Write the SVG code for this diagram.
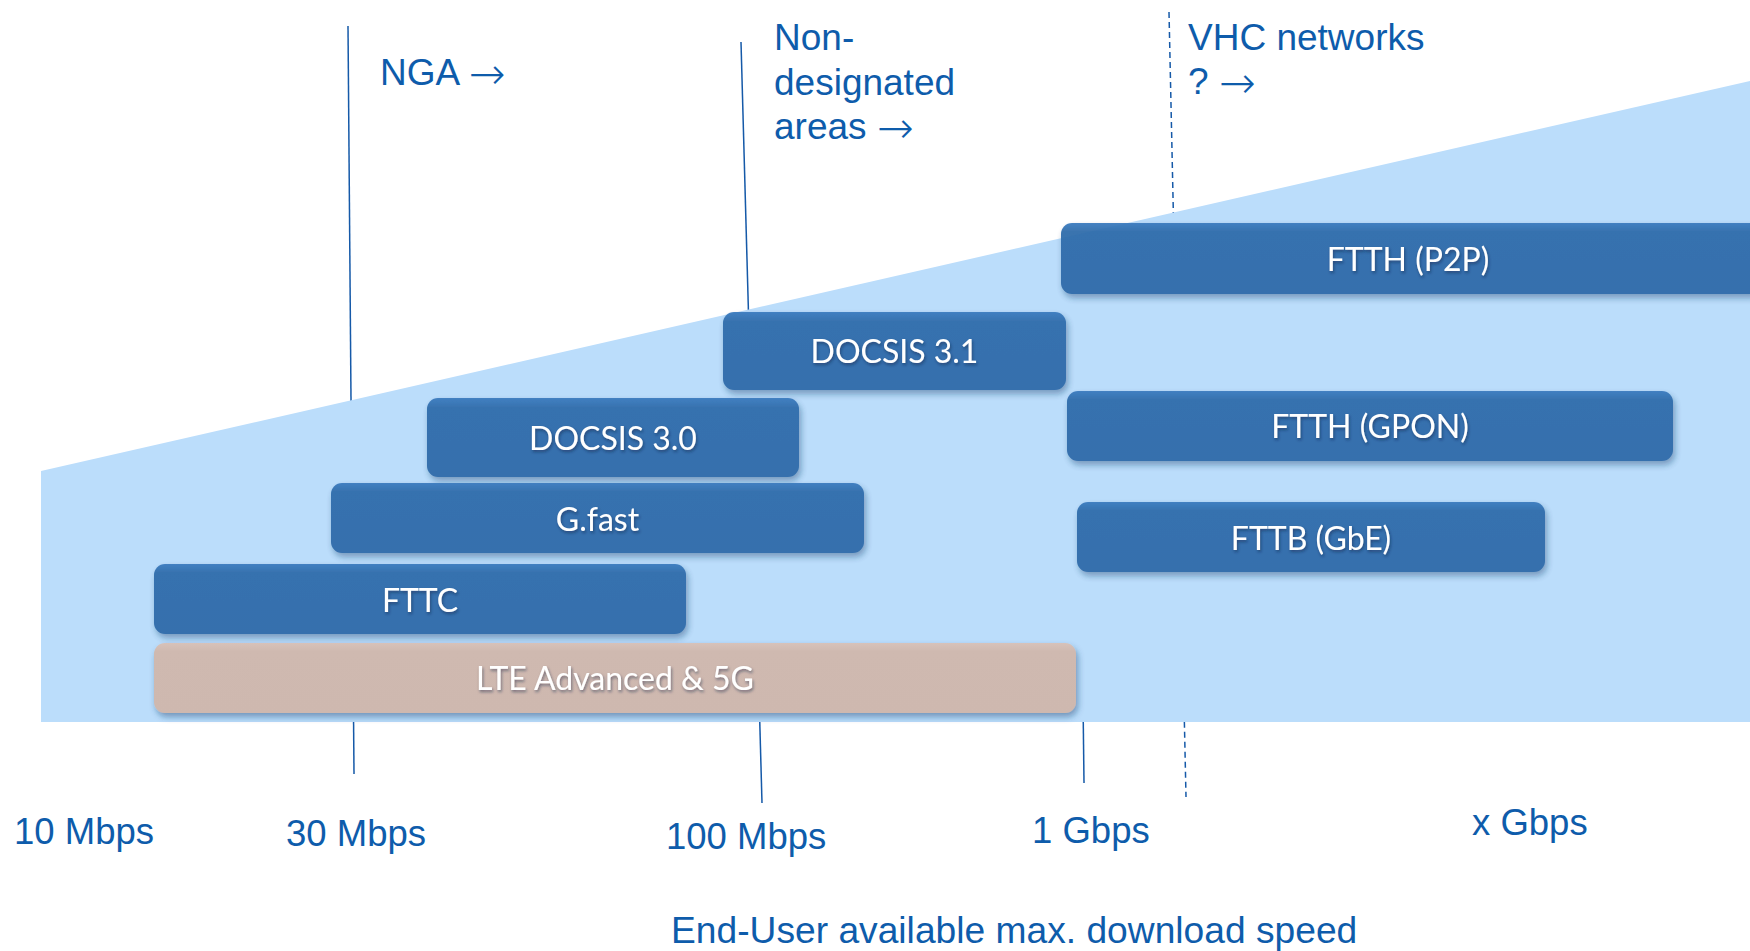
<svg xmlns="http://www.w3.org/2000/svg" width="1750" height="951" viewBox="0 0 1750 951">
  <defs>
    <style>
      .guide { stroke: #1559a8; stroke-width: 1.5; fill: none; }
      .guide-dash { stroke: #1559a8; stroke-width: 1.5; fill: none; stroke-dasharray: 6 4; }
      .lbl { font-family: "Liberation Sans", Arial, sans-serif; fill: #0e5cab; }
      .arr { font-family: "DejaVu Sans", sans-serif; font-weight: 200; font-size: 44px; }
      .top { font-size: 37px; }
      .axis { font-size: 36.5px; }
      .title { font-size: 37.2px; }
      .bar { fill: url(#barBlue); opacity: 0.94; filter: url(#barShadow); }
      .bar-lte { fill: url(#barTan); filter: url(#barShadow); }
      .bar-text { font-family: Lato, "Open Sans", sans-serif; font-size: 32px; fill: #ffffff; text-anchor: middle; filter: url(#textShadow); }
    </style>
    <linearGradient id="barBlue" x1="0" y1="0" x2="0" y2="1">
      <stop offset="0" stop-color="#3b7bbf"/>
      <stop offset="0.12" stop-color="#2f6cab"/>
      <stop offset="1" stop-color="#2e6aa9"/>
    </linearGradient>
    <linearGradient id="barTan" x1="0" y1="0" x2="0" y2="1">
      <stop offset="0" stop-color="#d7c2ba"/>
      <stop offset="0.12" stop-color="#cfb9b0"/>
      <stop offset="1" stop-color="#ceb8af"/>
    </linearGradient>
    <filter id="barShadow" x="-5%" y="-20%" width="110%" height="150%">
      <feDropShadow dx="2" dy="4" stdDeviation="3" flood-color="#1d3f6e" flood-opacity="0.45"/>
    </filter>
    <filter id="textShadow" x="-10%" y="-30%" width="120%" height="160%">
      <feDropShadow dx="1" dy="2" stdDeviation="1.5" flood-color="#0a2140" flood-opacity="0.5"/>
    </filter>
  </defs>

  <rect width="1750" height="951" fill="#ffffff"/>

  <!-- threshold guide lines (partly covered by the speed wedge) -->
  <g id="connectors">
    <line class="guide" x1="348" y1="26" x2="354" y2="774"/>
    <line class="guide" x1="741" y1="42" x2="762" y2="803"/>
    <line class="guide" x1="1083" y1="700" x2="1084" y2="783"/>
    <line class="guide-dash" x1="1169" y1="12" x2="1186" y2="797"/>
  </g>

  <!-- speed wedge -->
  <polygon id="wedge" points="41,471 1750,81 1750,722 41,722" fill="#bbddfb"/>

  <!-- technology bars -->
  <g id="ftth-p2p">
    <rect class="bar" x="1061" y="223" width="700" height="71" rx="11"/>
    <text class="bar-text" x="1408" y="271">FTTH (P2P)</text>
  </g>
  <g id="docsis31">
    <rect class="bar" x="723" y="312" width="343" height="78" rx="11"/>
    <text class="bar-text" x="894.5" y="363">DOCSIS 3.1</text>
  </g>
  <g id="ftth-gpon">
    <rect class="bar" x="1067" y="391" width="606" height="70" rx="11"/>
    <text class="bar-text" x="1370" y="438">FTTH (GPON)</text>
  </g>
  <g id="docsis30">
    <rect class="bar" x="427" y="398" width="372" height="79" rx="11"/>
    <text class="bar-text" x="613" y="450">DOCSIS 3.0</text>
  </g>
  <g id="gfast">
    <rect class="bar" x="331" y="483" width="533" height="70" rx="11"/>
    <text class="bar-text" x="597.5" y="531">G.fast</text>
  </g>
  <g id="fttb-gbe">
    <rect class="bar" x="1077" y="502" width="468" height="70" rx="11"/>
    <text class="bar-text" x="1311" y="550">FTTB (GbE)</text>
  </g>
  <g id="fttc">
    <rect class="bar" x="154" y="564" width="532" height="70" rx="11"/>
    <text class="bar-text" x="420" y="612">FTTC</text>
  </g>
  <g id="lte-5g">
    <rect class="bar-lte" x="154" y="643" width="922" height="70" rx="11"/>
    <text class="bar-text" x="615" y="690">LTE Advanced &amp; 5G</text>
  </g>

  <!-- region headings -->
  <g id="nga-label">
    <text class="lbl top" x="380" y="85">NGA <tspan class="arr" dy="4">→</tspan></text>
  </g>
  <g id="nondesignated-label">
    <text class="lbl top" x="774" y="50">Non-</text>
    <text class="lbl top" x="774" y="95">designated</text>
    <text class="lbl top" x="774" y="139">areas <tspan class="arr" dy="4">→</tspan></text>
  </g>
  <g id="vhc-label">
    <text class="lbl top" x="1188" y="50">VHC networks</text>
    <text class="lbl top" x="1188" y="94">? <tspan class="arr" dy="4">→</tspan></text>
  </g>

  <!-- speed axis -->
  <g id="axis-labels">
    <text class="lbl axis" x="14" y="844">10 Mbps</text>
    <text class="lbl axis" x="286" y="846">30 Mbps</text>
    <text class="lbl axis" x="666" y="849">100 Mbps</text>
    <text class="lbl axis" x="1032" y="843">1 Gbps</text>
    <text class="lbl axis" x="1472" y="835">x Gbps</text>
    <text class="lbl title" x="671" y="943">End-User available max. download speed</text>
  </g>
</svg>
